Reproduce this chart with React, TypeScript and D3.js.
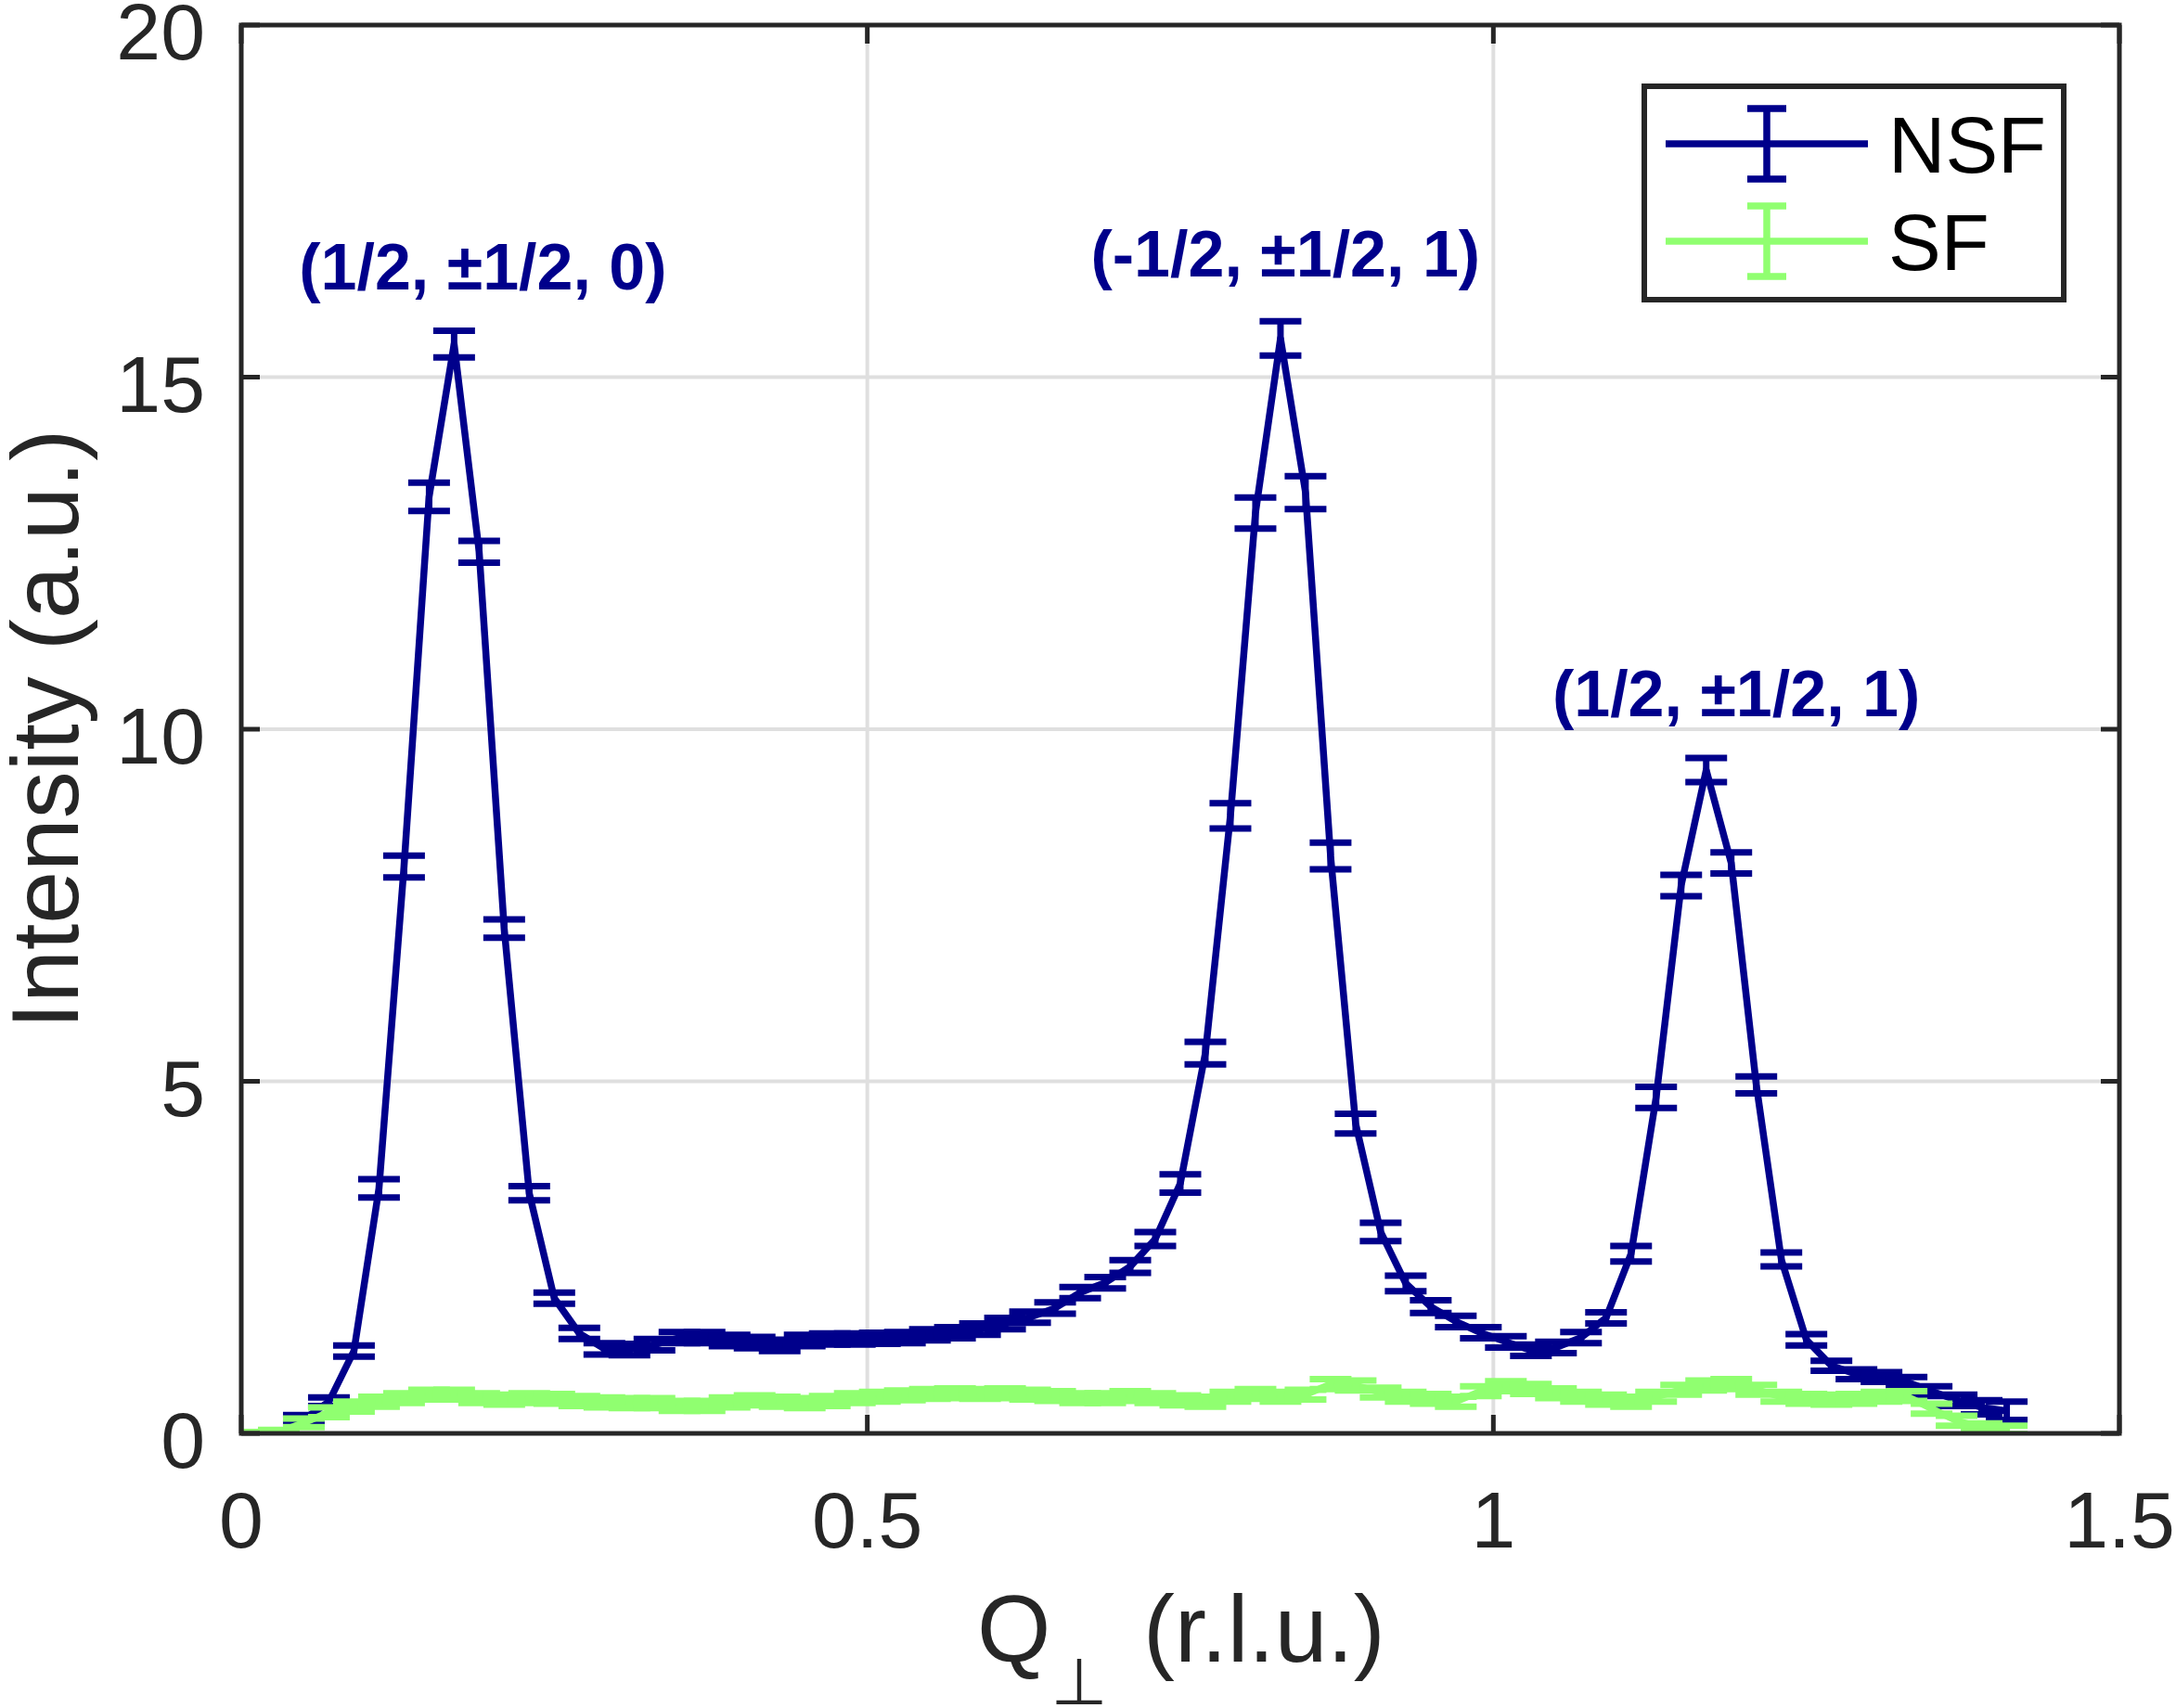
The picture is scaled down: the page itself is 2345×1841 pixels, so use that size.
import React, { useRef, useEffect } from 'react';
import * as d3 from 'd3';

// NSF channel (Q in r.l.u., intensity in a.u.)
const qNSF = [
  0.05, 0.07, 0.09, 0.11, 0.13, 0.15, 0.17, 0.19, 0.21, 0.23,
  0.25, 0.27, 0.29, 0.31, 0.33, 0.35, 0.37, 0.39, 0.41, 0.43,
  0.45, 0.47, 0.49, 0.51, 0.53, 0.55, 0.57, 0.59, 0.61, 0.63,
  0.65, 0.67, 0.69, 0.71, 0.73, 0.75, 0.77, 0.79, 0.81, 0.83,
  0.85, 0.87, 0.89, 0.91, 0.93, 0.95, 0.97, 0.99, 1.01, 1.03,
  1.05, 1.07, 1.09, 1.11, 1.13, 1.15, 1.17, 1.19, 1.21, 1.23,
  1.25, 1.27, 1.29, 1.31, 1.33, 1.35, 1.37, 1.39, 1.41,
];
const nsf = [
  0.2, 0.45, 1.17, 3.48, 8.05, 13.3, 15.47, 12.52, 7.17, 3.41,
  1.92, 1.42, 1.2, 1.19, 1.26, 1.36, 1.36, 1.32, 1.29, 1.25,
  1.32, 1.34, 1.34, 1.35, 1.36, 1.4, 1.43, 1.48, 1.56, 1.65,
  1.78, 2.0, 2.14, 2.37, 2.76, 3.55, 5.4, 8.77, 13.07, 15.55,
  13.36, 8.2, 4.4, 2.86, 2.13, 1.8, 1.59, 1.43, 1.3, 1.18,
  1.22, 1.36, 1.64, 2.55, 4.77, 7.78, 9.42, 8.1, 4.95, 2.47,
  1.33, 0.96, 0.84, 0.8, 0.73, 0.6, 0.47, 0.37, 0.32,
];
const nsfErr = [
  0.06, 0.06, 0.08, 0.13, 0.155, 0.2, 0.19, 0.155, 0.13, 0.1,
  0.08, 0.08, 0.08, 0.08, 0.08, 0.08, 0.08, 0.08, 0.08, 0.08,
  0.08, 0.08, 0.08, 0.08, 0.08, 0.08, 0.08, 0.08, 0.08, 0.08,
  0.08, 0.08, 0.08, 0.09, 0.1, 0.13, 0.16, 0.18, 0.22, 0.245,
  0.235, 0.19, 0.14, 0.13, 0.11, 0.09, 0.08, 0.08, 0.08, 0.08,
  0.08, 0.08, 0.08, 0.11, 0.15, 0.15, 0.17, 0.15, 0.12, 0.1,
  0.08, 0.07, 0.07, 0.07, 0.07, 0.07, 0.08, 0.1, 0.13,
];

// SF channel
const qSF = [
  0.01, 0.03, 0.05, 0.07, 0.09, 0.11, 0.13, 0.15, 0.17, 0.19,
  0.21, 0.23, 0.25, 0.27, 0.29, 0.31, 0.33, 0.35, 0.37, 0.39,
  0.41, 0.43, 0.45, 0.47, 0.49, 0.51, 0.53, 0.55, 0.57, 0.59,
  0.61, 0.63, 0.65, 0.67, 0.69, 0.71, 0.73, 0.75, 0.77, 0.79,
  0.81, 0.83, 0.85, 0.87, 0.89, 0.91, 0.93, 0.95, 0.97, 0.99,
  1.01, 1.03, 1.05, 1.07, 1.09, 1.11, 1.13, 1.15, 1.17, 1.19,
  1.21, 1.23, 1.25, 1.27, 1.29, 1.31, 1.33, 1.35, 1.37, 1.39,
  1.41,
];
const sf = [
  0.0, 0.02, 0.15, 0.3, 0.38, 0.45, 0.5, 0.55, 0.55, 0.5,
  0.48, 0.5, 0.49, 0.46, 0.44, 0.43, 0.43, 0.39, 0.39, 0.44,
  0.47, 0.45, 0.43, 0.46, 0.5, 0.52, 0.54, 0.56, 0.57, 0.56,
  0.57, 0.55, 0.53, 0.5, 0.5, 0.53, 0.5, 0.47, 0.45, 0.52,
  0.56, 0.52, 0.55, 0.7, 0.68, 0.58, 0.52, 0.49, 0.45, 0.6,
  0.67, 0.63, 0.57, 0.52, 0.48, 0.45, 0.52, 0.62, 0.68, 0.7,
  0.62, 0.52, 0.49, 0.48, 0.49, 0.52, 0.53, 0.35, 0.18, 0.08,
  0.05,
];
const sfErr = [
  0.02, 0.03, 0.06, 0.07, 0.07, 0.07, 0.07, 0.07, 0.07, 0.07,
  0.07, 0.07, 0.07, 0.07, 0.07, 0.07, 0.07, 0.07, 0.07, 0.07,
  0.07, 0.07, 0.07, 0.07, 0.07, 0.07, 0.07, 0.07, 0.07, 0.07,
  0.07, 0.07, 0.07, 0.07, 0.07, 0.07, 0.07, 0.07, 0.07, 0.07,
  0.07, 0.07, 0.07, 0.07, 0.07, 0.07, 0.07, 0.07, 0.07, 0.07,
  0.07, 0.07, 0.07, 0.07, 0.07, 0.07, 0.07, 0.07, 0.07, 0.07,
  0.07, 0.07, 0.07, 0.07, 0.07, 0.07, 0.07, 0.07, 0.07, 0.06,
  0.06,
];

const xTicks = [0, 0.5, 1, 1.5];
const yTicks = [0, 5, 10, 15, 20];
const seriesNames = ['NSF', 'SF'];

// peak annotations (text + anchor in data units)
const peakLabels = ['(1/2, \u00b11/2, 0)', '(-1/2, \u00b11/2, 1)', '(1/2, \u00b11/2, 1)'];
const peakLabelQ = [0.193, 0.834, 1.194];
const peakLabelI = [16.25, 16.43, 10.18];

const W = 2345;
const H = 1841;

const App: React.FC = () => {
  const svgRef = useRef<SVGSVGElement | null>(null);

  useEffect(() => {
    if (!svgRef.current) return;
    const svg = d3.select(svgRef.current);
    svg.selectAll('*').remove();

    const plot = { left: 260, right: 2284, top: 27, bottom: 1545 };
    const font = '"Liberation Sans", Arial, Helvetica, sans-serif';
    const colors = {
      axis: '#262626',
      grid: '#dfdfdf',
      nsf: '#00008b',
      sf: '#90ff70',
    };
    const lw = 7.5;
    const capHalf = 22.5;

    const x = d3.scaleLinear().domain([0, 1.5]).range([plot.left, plot.right]);
    const y = d3.scaleLinear().domain([0, 20]).range([plot.bottom, plot.top]);

    svg.append('rect').attr('width', W).attr('height', H).attr('fill', '#fff');

    // grid
    const grid = svg.append('g');
    xTicks.slice(1, -1).forEach(t => {
      grid.append('line')
        .attr('x1', x(t)).attr('x2', x(t))
        .attr('y1', plot.top).attr('y2', plot.bottom)
        .attr('stroke', colors.grid).attr('stroke-width', 4);
    });
    yTicks.slice(1, -1).forEach(t => {
      grid.append('line')
        .attr('x1', plot.left).attr('x2', plot.right)
        .attr('y1', y(t)).attr('y2', y(t))
        .attr('stroke', colors.grid).attr('stroke-width', 4);
    });

    // clip to axes
    svg.append('clipPath').attr('id', 'plotClip')
      .append('rect')
      .attr('x', plot.left).attr('y', plot.top)
      .attr('width', plot.right - plot.left)
      .attr('height', plot.bottom - plot.top);

    const data = svg.append('g').attr('clip-path', 'url(#plotClip)');

    function drawSeries(qs: number[], vals: number[], errs: number[], color: string) {
      const pts = qs.map((q, i) => [q, vals[i]] as [number, number]);
      const line = d3.line<[number, number]>().x(d => x(d[0])).y(d => y(d[1]));
      data.append('path')
        .attr('d', line(pts))
        .attr('fill', 'none')
        .attr('stroke', color)
        .attr('stroke-width', lw)
        .attr('stroke-linejoin', 'round');
      const eb = data.append('g')
        .attr('stroke', color)
        .attr('stroke-width', lw - 0.5);
      qs.forEach((q, i) => {
        const cx = x(q);
        const lo = y(vals[i] - errs[i]);
        const hi = y(vals[i] + errs[i]);
        eb.append('line').attr('x1', cx).attr('x2', cx).attr('y1', lo).attr('y2', hi);
        eb.append('line').attr('x1', cx - capHalf).attr('x2', cx + capHalf).attr('y1', lo).attr('y2', lo);
        eb.append('line').attr('x1', cx - capHalf).attr('x2', cx + capHalf).attr('y1', hi).attr('y2', hi);
      });
    }

    drawSeries(qNSF, nsf, nsfErr, colors.nsf);
    drawSeries(qSF, sf, sfErr, colors.sf);

    // axes box + inward ticks
    const ax = svg.append('g').attr('stroke', colors.axis).attr('stroke-width', 5);
    ax.append('rect')
      .attr('x', plot.left).attr('y', plot.top)
      .attr('width', plot.right - plot.left)
      .attr('height', plot.bottom - plot.top)
      .attr('fill', 'none');
    const tickLen = 20;
    xTicks.forEach(t => {
      ax.append('line').attr('x1', x(t)).attr('x2', x(t))
        .attr('y1', plot.bottom).attr('y2', plot.bottom - tickLen);
      ax.append('line').attr('x1', x(t)).attr('x2', x(t))
        .attr('y1', plot.top).attr('y2', plot.top + tickLen);
    });
    yTicks.forEach(t => {
      ax.append('line').attr('x1', plot.left).attr('x2', plot.left + tickLen)
        .attr('y1', y(t)).attr('y2', y(t));
      ax.append('line').attr('x1', plot.right).attr('x2', plot.right - tickLen)
        .attr('y1', y(t)).attr('y2', y(t));
    });

    // tick labels
    const tickFont = 86;
    xTicks.forEach(t => {
      svg.append('text')
        .attr('x', x(t)).attr('y', 1668)
        .attr('text-anchor', 'middle')
        .attr('font-family', font).attr('font-size', tickFont)
        .attr('fill', colors.axis)
        .text(String(t));
    });
    yTicks.forEach(t => {
      svg.append('text')
        .attr('x', 221).attr('y', y(t) + 37)
        .attr('text-anchor', 'end')
        .attr('font-family', font).attr('font-size', tickFont)
        .attr('fill', colors.axis)
        .text(String(t));
    });

    // axis labels
    const cx = (plot.left + plot.right) / 2;
    svg.append('text')
      .attr('x', cx - 219).attr('y', 1791)
      .attr('font-family', font).attr('font-size', 102)
      .attr('fill', colors.axis)
      .text('Q');
    svg.append('text')
      .attr('x', cx - 109).attr('y', 1837)
      .attr('text-anchor', 'middle')
      .attr('font-family', '"DejaVu Sans", sans-serif').attr('font-size', 70)
      .attr('fill', colors.axis)
      .text('\u22a5');
    svg.append('text')
      .attr('x', cx - 40).attr('y', 1791)
      .attr('font-family', font).attr('font-size', 102)
      .attr('fill', colors.axis)
      .text('(r.l.u.)');
    svg.append('text')
      .attr('transform', `translate(84, ${(plot.top + plot.bottom) / 2}) rotate(-90)`)
      .attr('text-anchor', 'middle')
      .attr('font-family', font).attr('font-size', 102)
      .attr('fill', colors.axis)
      .text('Intensity (a.u.)');

    // peak labels
    peakLabels.forEach((lab, i) => {
      svg.append('text')
        .attr('x', x(peakLabelQ[i])).attr('y', y(peakLabelI[i]))
        .attr('text-anchor', 'middle')
        .attr('font-family', font).attr('font-size', 70)
        .attr('font-weight', 'bold')
        .attr('fill', colors.nsf)
        .text(lab);
    });

    // legend
    const lg = svg.append('g');
    lg.append('rect')
      .attr('x', 1772).attr('y', 93).attr('width', 452).attr('height', 230)
      .attr('fill', '#fff').attr('stroke', colors.axis).attr('stroke-width', 6);
    const legendColors = [colors.nsf, colors.sf];
    seriesNames.forEach((name, i) => {
      const ly = 155 + i * 105;
      const c = legendColors[i];
      lg.append('line').attr('x1', 1795).attr('x2', 2013).attr('y1', ly).attr('y2', ly)
        .attr('stroke', c).attr('stroke-width', lw);
      lg.append('line').attr('x1', 1904).attr('x2', 1904).attr('y1', ly - 38).attr('y2', ly + 38)
        .attr('stroke', c).attr('stroke-width', lw);
      lg.append('line').attr('x1', 1883).attr('x2', 1925).attr('y1', ly - 38).attr('y2', ly - 38)
        .attr('stroke', c).attr('stroke-width', lw);
      lg.append('line').attr('x1', 1883).attr('x2', 1925).attr('y1', ly + 38).attr('y2', ly + 38)
        .attr('stroke', c).attr('stroke-width', lw);
      lg.append('text')
        .attr('x', 2035).attr('y', ly + 31)
        .attr('font-family', font).attr('font-size', 85)
        .attr('fill', '#000')
        .text(name);
    });
  }, []);

  return (
    <svg
      ref={svgRef}
      width={W}
      height={H}
      style={{ position: 'absolute', left: 0, top: 0, display: 'block' }}
    />
  );
};

export default App;
